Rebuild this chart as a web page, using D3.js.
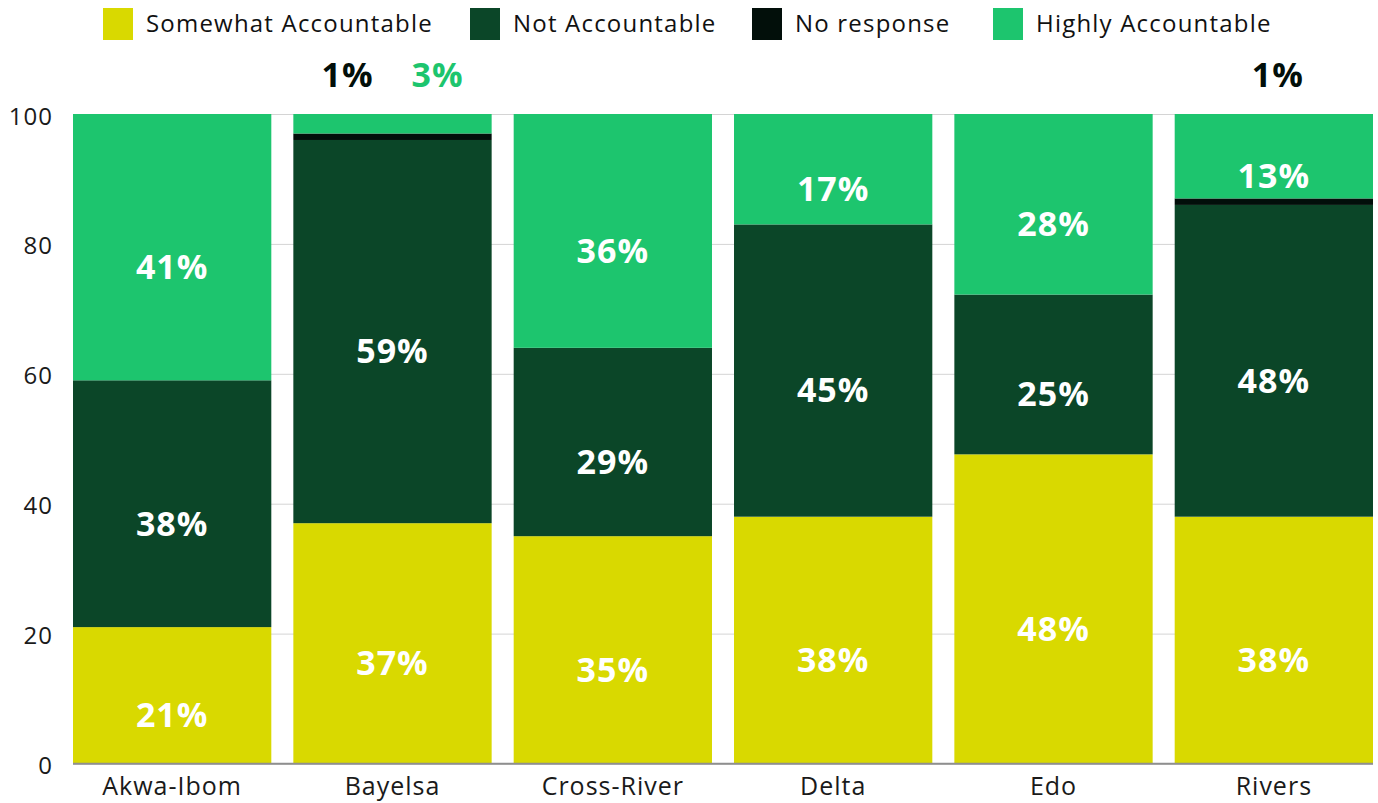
<!DOCTYPE html>
<html>
<head>
<meta charset="utf-8">
<script src="https://cdn.jsdelivr.net/npm/d3@7"></script>
<style>
  html, body { margin: 0; padding: 0; background: #fff; }
  svg { display: block; font-family: "Open Sans", Lato, sans-serif; }
</style>
</head>
<body>
<svg id="chart" width="1378" height="803"></svg>
<script>
// States surveyed
const states = ["Akwa-Ibom", "Bayelsa", "Cross-River", "Delta", "Edo", "Rivers"];

// Series, bottom to top in each stack
const seriesNames = ["Somewhat Accountable", "Not Accountable", "No response", "Highly Accountable"];
const seriesColors = ["#d9d900", "#0b4628", "#020f0a", "#1dc56e"];

// Share of respondents (%) per state
const somewhatAccountable = [21, 37, 35, 38, 47.6, 38];
const notAccountable      = [38, 59, 29, 45, 24.6, 48];
const noResponse          = [0, 1, 0, 0, 0, 1];
const highlyAccountable   = [41, 3, 36, 17, 27.8, 13];

const yTicks = [0, 20, 40, 60, 80, 100];

const seriesValues = [somewhatAccountable, notAccountable, noResponse, highlyAccountable];

// Rows for d3.stack
const rows = states.map((s, i) => {
  const r = { state: s };
  seriesNames.forEach((n, k) => { r[n] = seriesValues[k][i]; });
  return r;
});

const plot = { left: 73, right: 1373, top: 114, bottom: 763.5 };
const fontFamily = "'Open Sans', Lato, sans-serif";

const svg = d3.select("#chart");

const x = d3.scaleBand()
  .domain(states)
  .range([plot.left, plot.right])
  .paddingInner(0.1)
  .paddingOuter(0);

const y = d3.scaleLinear().domain([0, 100]).range([plot.bottom, plot.top]);

const color = d3.scaleOrdinal().domain(seriesNames).range(seriesColors);

// Gridlines and y tick labels
const yAxis = d3.axisLeft(y)
  .tickValues(yTicks)
  .tickSize(-(plot.right - plot.left))
  .tickPadding(20)
  .tickFormat(d3.format("d"));

const gy = svg.append("g")
  .attr("transform", `translate(${plot.left},0)`)
  .call(yAxis);
gy.select(".domain").remove();
gy.selectAll(".tick line")
  .attr("stroke", d => d === 0 ? "#8f8f8f" : "#d4d4d4")
  .attr("stroke-width", d => d === 0 ? 1.5 : 1);
gy.selectAll(".tick text")
  .attr("fill", "#1a1a1a")
  .attr("dy", "0.42em")
  .style("font-size", "24px")
  .style("letter-spacing", "1px")
  .style("font-family", fontFamily);

// Stacked bars
const stack = d3.stack().keys(seriesNames);
const layers = stack(rows);

const gBars = svg.append("g");
layers.forEach(layer => {
  gBars.append("g")
    .attr("fill", color(layer.key))
    .selectAll("rect")
    .data(layer)
    .join("rect")
    .attr("x", d => x(d.data.state))
    .attr("width", x.bandwidth())
    .attr("y", d => y(d[1]))
    .attr("height", d => Math.max(0, y(d[0]) - y(d[1])));
});

// Repaint the zero line above the bars
svg.append("line")
  .attr("x1", plot.left).attr("x2", plot.right)
  .attr("y1", y(0)).attr("y2", y(0))
  .attr("stroke", "#8f8f8f").attr("stroke-width", 1.5);

// Value labels: large segments inside, small ones above the plot
const fmt = v => Math.round(v) + "%";
const smallThreshold = 5;
const gLabels = svg.append("g")
  .style("font-weight", "700")
  .style("font-size", "34px")
  .style("letter-spacing", "1px")
  .style("font-family", fontFamily)
  .attr("text-anchor", "middle");

layers.forEach(layer => {
  layer.forEach(d => {
    const v = d[1] - d[0];
    if (v <= 0 || v < smallThreshold) return;
    gLabels.append("text")
      .attr("x", x(d.data.state) + x.bandwidth() / 2)
      .attr("y", (y(d[0]) + y(d[1])) / 2 + 20)
      .attr("dy", "0.35em")
      .attr("fill", "#ffffff")
      .text(fmt(v));
  });
});

states.forEach((s, i) => {
  const small = seriesNames
    .map((n, k) => ({ name: n, v: seriesValues[k][i] }))
    .filter(o => o.v > 0 && o.v < smallThreshold);
  const spacing = 90;
  small.forEach((o, j) => {
    const cx = x(s) + x.bandwidth() / 2 + (j - (small.length - 1) / 2) * spacing;
    gLabels.append("text")
      .attr("x", cx + (small.length === 1 ? 4 : 0))
      .attr("y", 75)
      .attr("dy", "0.35em")
      .attr("fill", color(o.name))
      .text(fmt(o.v));
  });
});

// Category labels
const xAxis = d3.axisBottom(x).tickSize(0).tickPadding(14);
const gx = svg.append("g")
  .attr("transform", `translate(0,${plot.bottom})`)
  .call(xAxis);
gx.select(".domain").remove();
gx.selectAll(".tick text")
  .attr("fill", "#1a1a1a")
  .style("font-size", "25px")
  .style("letter-spacing", "1px")
  .style("font-family", fontFamily);

// Legend
const legendStarts = [103, 470, 752, 993];
const legend = svg.append("g");
seriesNames.forEach((n, k) => {
  const g = legend.append("g").attr("transform", `translate(${legendStarts[k]},8)`);
  g.append("rect").attr("width", 30).attr("height", 32).attr("fill", color(n));
  g.append("text")
    .attr("x", 43).attr("y", 16).attr("dy", "0.35em")
    .attr("fill", "#111")
    .style("font-size", "24px")
    .style("letter-spacing", "1.2px")
    .style("font-family", fontFamily)
    .text(n);
});
</script>
</body>
</html>
